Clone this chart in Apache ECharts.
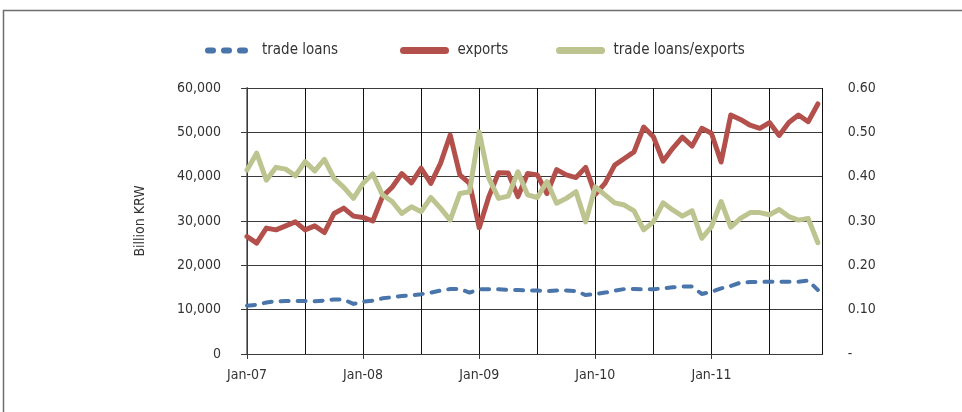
<!DOCTYPE html>
<html>
<head>
<meta charset="utf-8">
<script src="https://cdn.jsdelivr.net/npm/echarts@6/dist/echarts.min.js"></script>
<style>
html,body{margin:0;padding:0;background:#fff;}
#c{width:962px;height:412px;}
</style>
</head>
<body>
<div id="c"></div>
<script>
// Monthly data, Jan-07 .. Dec-11 (60 months)
var tradeLoans = [10900,11100,11600,11900,11950,11950,11950,11900,12050,12300,12300,11300,
  11800,12050,12550,12800,13100,13200,13500,13850,14300,14650,14650,13850,
  14600,14600,14600,14450,14450,14300,14300,14200,14300,14300,14200,13300,
  13550,13850,14300,14650,14650,14600,14600,14800,15050,15200,15200,13550,
  14050,14800,15350,16100,16250,16250,16300,16300,16300,16300,16550,14450];
var exportsVals = [26500,25000,28400,28000,28900,29800,28000,28900,27400,31700,32900,31100,
  30800,30000,35500,37600,40700,38600,41900,38500,43000,49400,40400,38500,
  28500,35500,40900,40800,35500,40700,40400,36200,41600,40400,39800,42100,
  36000,38500,42600,44100,45600,51200,49000,43500,46400,48900,46900,50900,
  49800,43300,53900,52900,51600,50900,52200,49300,52200,53900,52400,56400];
var ratioVals = [0.415,0.453,0.392,0.421,0.417,0.402,0.434,0.413,0.439,0.396,0.376,0.351,
  0.385,0.406,0.359,0.344,0.317,0.332,0.321,0.353,0.329,0.302,0.362,0.366,
  0.501,0.396,0.351,0.356,0.411,0.359,0.353,0.389,0.340,0.351,0.366,0.298,
  0.377,0.359,0.341,0.336,0.323,0.280,0.298,0.341,0.325,0.311,0.323,0.261,
  0.287,0.344,0.286,0.306,0.319,0.319,0.314,0.326,0.310,0.302,0.306,0.251];
var xTickPos = [0,12,24,36,48];
var xTickLabels = ['Jan-07','Jan-08','Jan-09','Jan-10','Jan-11'];
var seriesNames = ['trade loans','exports','trade loans/exports'];

function pairs(arr){ return arr.map(function(v,i){ return [i,v]; }); }

var FONT = '"DejaVu Sans Condensed", "DejaVu Sans", sans-serif';
var TXT = '#333';
var GRIDC = '#3a3a3a';

var chart = echarts.init(document.getElementById('c'), null, {renderer:'canvas'});
var legendBase = {
  top: 38, itemWidth: 42, itemHeight: 8, itemGap: 12,
  itemStyle: {opacity: 0},
  textStyle: {fontFamily: FONT, fontSize: 15, color: TXT, padding: [0, 0, 0, 7]}
};
chart.setOption({
  animation: false,
  backgroundColor: '#fff',
  textStyle: {fontFamily: FONT},
  graphic: [{
    type: 'rect', shape: {x: 3.5, y: 10.5, width: 1100, height: 600},
    style: {fill: null, stroke: '#6e6e6e', lineWidth: 1.5}, silent: true
  }],
  legend: [
    Object.assign({left: 200, data: [seriesNames[0]], lineStyle: {width: 6, type: [5, 11], cap: 'round'}}, legendBase),
    Object.assign({left: 395, data: [seriesNames[1]], lineStyle: {width: 7, cap: 'round'}}, legendBase),
    Object.assign({left: 551, data: [seriesNames[2]], lineStyle: {width: 7, cap: 'round'}}, legendBase)
  ],
  grid: {left: 247, top: 88, right: 139.3, bottom: 58, containLabel: false},
  xAxis: [{
    type: 'value', min: 0, max: 59.5, interval: 6,
    axisLine: {show: true, onZero: false, lineStyle: {color: GRIDC, width: 1}},
    axisTick: {show: true, customValues: xTickPos, length: 5, lineStyle: {color: GRIDC}},
    axisLabel: {
      customValues: xTickPos, margin: 14,
      fontFamily: FONT, fontSize: 14, color: TXT,
      formatter: function(v){ var k = xTickPos.indexOf(Math.round(v)); return k >= 0 ? xTickLabels[k] : ''; }
    },
    splitLine: {show: false}
  }, {
    type: 'value', min: 0, max: 59.5, interval: 6, position: 'bottom',
    axisLine: {show: false}, axisTick: {show: false}, axisLabel: {show: false},
    splitLine: {show: true, lineStyle: {color: '#111', width: 1}}
  }],
  yAxis: [{
    type: 'value', min: 0, max: 60000, interval: 10000,
    name: 'Billion KRW', nameLocation: 'middle', nameGap: 100, nameRotate: 90,
    nameTextStyle: {fontFamily: FONT, fontSize: 14, color: TXT},
    axisLine: {show: true, lineStyle: {color: '#8a8a8a', width: 2}},
    axisTick: {show: true, length: 6, lineStyle: {color: GRIDC}},
    axisLabel: {margin: 26, fontFamily: FONT, fontSize: 14, color: TXT,
      formatter: function(v){ return v.toLocaleString('en-US'); }},
    splitLine: {show: true, lineStyle: {color: GRIDC, width: 1}}
  }, {
    type: 'value', min: 0, max: 0.6, interval: 0.1, position: 'right',
    axisLine: {show: true, lineStyle: {color: GRIDC, width: 1}},
    axisTick: {show: true, length: 6, lineStyle: {color: GRIDC}},
    axisLabel: {margin: 25, fontFamily: FONT, fontSize: 14, color: TXT,
      formatter: function(v){ return v === 0 ? '-' : v.toFixed(2); }},
    splitLine: {show: false}
  }],
  series: [{
    name: seriesNames[0], type: 'line', yAxisIndex: 0, symbol: 'none',
    data: pairs(tradeLoans),
    lineStyle: {color: '#4a75ab', width: 4, type: [8, 9], cap: 'round', join: 'round'},
    itemStyle: {color: '#4a75ab'}
  }, {
    name: seriesNames[1], type: 'line', yAxisIndex: 0, symbol: 'none',
    data: pairs(exportsVals),
    lineStyle: {color: '#b3504b', width: 5, cap: 'round', join: 'round'},
    itemStyle: {color: '#b3504b'}
  }, {
    name: seriesNames[2], type: 'line', yAxisIndex: 1, symbol: 'none',
    data: pairs(ratioVals),
    lineStyle: {color: '#bdc48f', width: 5, cap: 'round', join: 'round'},
    itemStyle: {color: '#bdc48f'}
  }]
});
</script>
</body>
</html>
